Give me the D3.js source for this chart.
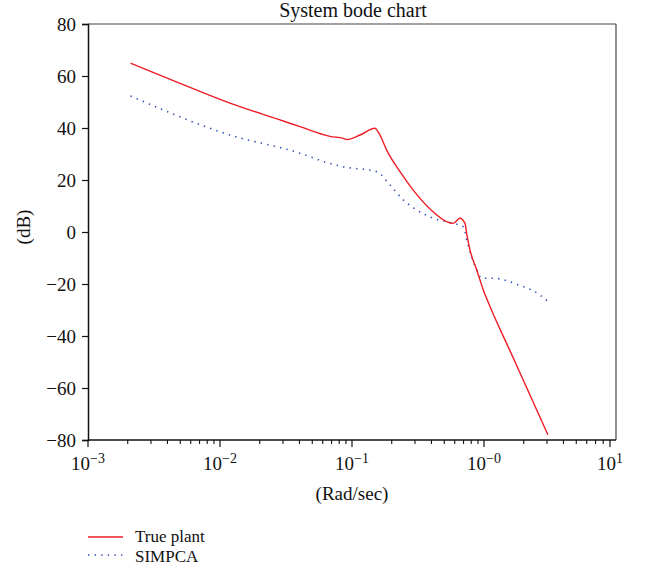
<!DOCTYPE html>
<html><head><meta charset="utf-8">
<script src="https://cdn.jsdelivr.net/npm/d3@7"></script>
<style>body{margin:0;background:#fff}svg text{font-family:"Liberation Serif","DejaVu Serif",serif;fill:#111}</style>
</head><body><svg id="c" width="648" height="569"></svg>
<script>
// Data
const trueFreq = [0.0021,0.00498,0.0119,0.0285,0.0404,0.0681,0.0859,0.0912,0.115,0.149,0.160,0.183,0.231,0.290,0.411,0.521,0.585,0.658,0.718,0.739,0.783,0.881,0.988,1.125,1.6,2.2,3.05];
const trueDb   = [64.9,57.2,49.6,43.1,40.5,36.8,36.0,35.6,37.3,39.9,38.0,31.5,23.2,16.2,7.8,4.0,3.3,5.3,3.3,-0.5,-6.9,-14.6,-22.3,-29.3,-46.5,-62,-78];
const simFreq  = [0.0021,0.0119,0.0404,0.0643,0.0856,0.154,0.194,0.245,0.309,0.413,0.552,0.697,0.739,0.807,0.881,0.962,1.175,1.485,1.82,2.23,2.65,3.16];
const simDb    = [52.3,37.3,30.3,26.7,25.1,23.2,18.1,12.3,8.5,5.3,3.6,2.0,-3.1,-9.5,-14.6,-17.8,-17.8,-18.7,-20.4,-22,-24.2,-27.4];
const yTicks = [80,60,40,20,0,-20,-40,-60,-80];
const xMajor = [{v:0.001,e:"−3"},{v:0.01,e:"−2"},{v:0.1,e:"−1"},{v:1,e:"−0"},{v:9,e:"1"}];
const seriesNames = ["True plant","SIMPCA"];

const svg = d3.select("#c");
const L=88,R=616,T=24,B=440;
const x = d3.scaleLog().domain([0.001,10]).range([L,R]);
const y = d3.scaleLinear().domain([-80,80]).range([B,T]);
const FS = 19;

// frame
svg.append("line").attr("x1",L).attr("x2",R).attr("y1",T).attr("y2",T).attr("stroke","#444").attr("stroke-width",1.2);
svg.append("line").attr("x1",R).attr("x2",R).attr("y1",T).attr("y2",B).attr("stroke","#444").attr("stroke-width",1.2);

// y axis
const ya = svg.append("g").attr("transform",`translate(${L},0)`)
  .call(d3.axisLeft(y).tickValues(yTicks).tickSize(6).tickPadding(6).tickFormat(d=>d<0?"−"+Math.abs(d):d));
ya.select(".domain").attr("stroke","#111").attr("stroke-width",1.5);
ya.selectAll(".tick line").attr("stroke","#111").attr("stroke-width",1.2);
ya.selectAll(".tick text").attr("font-size",FS).attr("font-family","Liberation Serif").attr("fill","#111");

// x axis
const minor=[];
for(let k=-3;k<1;k++){for(let m=2;m<=8;m++)minor.push(m*Math.pow(10,k));}
for(let k=-3;k<0;k++)minor.push(9*Math.pow(10,k));
const xa = svg.append("g").attr("transform",`translate(0,${B})`);
xa.append("line").attr("x1",L).attr("x2",R).attr("stroke","#111").attr("stroke-width",1.5);
xa.selectAll("line.mn").data(minor).enter().append("line").attr("class","mn")
  .attr("x1",d=>x(d)).attr("x2",d=>x(d)).attr("y1",0).attr("y2",4).attr("stroke","#111").attr("stroke-width",1.1);
xa.selectAll("line.mj").data(xMajor).enter().append("line").attr("class","mj")
  .attr("x1",d=>x(d.v)).attr("x2",d=>x(d.v)).attr("y1",0).attr("y2",7).attr("stroke","#111").attr("stroke-width",1.2);
const lab = xa.selectAll("text.xl").data(xMajor).enter().append("text").attr("class","xl")
  .attr("x",d=>x(d.v)).attr("y",30).attr("text-anchor","middle").attr("font-size",FS);
lab.append("tspan").text("10");
lab.append("tspan").attr("dy",-7).attr("font-size",14).text(d=>d.e);

// titles
svg.append("text").attr("x",353).attr("y",17).attr("text-anchor","middle").attr("font-size",FS+1).text("System bode chart");
svg.append("text").attr("x",352).attr("y",500).attr("text-anchor","middle").attr("font-size",FS).text("(Rad/sec)");
svg.append("text").attr("transform","translate(30,227) rotate(-90)").attr("text-anchor","middle").attr("font-size",FS).text("(dB)");

// lines
const line = d3.line().x(d=>x(d[0])).y(d=>y(d[1])).curve(d3.curveMonotoneX);
const redC="#ee1c25", blueC="#3050b8";
svg.append("path").datum(simFreq.map((f,i)=>[f,simDb[i]])).attr("d",line)
  .attr("fill","none").attr("stroke",blueC).attr("stroke-width",1.6).attr("stroke-dasharray","1.4,5.2");
svg.append("path").datum(trueFreq.map((f,i)=>[f,trueDb[i]])).attr("d",line)
  .attr("fill","none").attr("stroke",redC).attr("stroke-width",1.4);

// legend
const lg = svg.append("g");
lg.append("line").attr("x1",88).attr("x2",123).attr("y1",537).attr("y2",537).attr("stroke",redC).attr("stroke-width",1.4);
lg.append("line").attr("x1",88).attr("x2",123).attr("y1",555).attr("y2",555).attr("stroke",blueC).attr("stroke-width",1.6).attr("stroke-dasharray","1.4,5.2");
lg.append("text").attr("x",135).attr("y",542).attr("font-size",17).text(seriesNames[0]);
lg.append("text").attr("x",135).attr("y",562).attr("font-size",17).text(seriesNames[1]);
</script></body></html>
